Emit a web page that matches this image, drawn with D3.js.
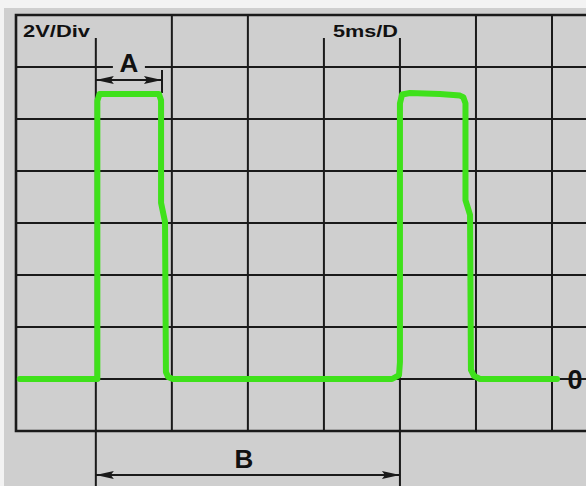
<!DOCTYPE html>
<html lang="en">
<head>
<meta charset="UTF-8">
<title>Scope trace</title>
<script src="https://d3js.org/d3.v7.min.js"></script>
<style>
  body { margin: 0; background: #ffffff; }
  svg { display: block; }
  text { font-family: "Liberation Sans", Arial, sans-serif; fill: #111; }
</style>
</head>
<body>
<div id="chart"></div>
<script>
// grid divisions: 5 ms per column, 2 V per row
const timeTicks = [5, 10, 15, 20, 25, 30, 35];
const voltTicks = [0, 2, 4, 6, 8, 10, 12];

// trace (ms, volts)
const traceTime  = [0.0, 5.1, 5.1, 5.24, 9.15, 9.29, 9.29, 9.55, 9.61, 9.75, 10.07, 24.48, 24.94, 25.0, 25.0, 25.14, 25.66, 27.63, 28.95, 29.17, 29.31, 29.31, 29.61, 29.67, 29.87, 30.26, 35.33];
const traceVolts = [0.0, 0.0, 10.7, 10.96, 10.96, 10.72, 6.77, 6.04, 0.27, 0.08, 0.0, 0.0, 0.15, 0.65, 10.6, 10.94, 11.0, 10.96, 10.9, 10.84, 10.6, 6.88, 6.31, 0.35, 0.12, 0.0, 0.0];

// measurement markers (ms)
const markerA = [5.0, 9.35];
const markerB = [5.0, 25.0];
const labels = { volts: "2V/Div", time: "5ms/D", zero: "0" };

const width = 586, height = 486;
const x = d3.scaleLinear().domain([-0.25, 35]).range([16, 552]);
const y = d3.scaleLinear().domain([-2, 14]).range([431, 15]);

const svg = d3.select("#chart").append("svg")
    .attr("width", width)
    .attr("height", height);

// screen background
svg.append("rect").attr("width", width).attr("height", height).attr("fill", "#f3f3f3");
svg.append("rect").attr("x", 4).attr("y", 8).attr("width", width).attr("height", height)
    .attr("fill", "#cfcfcf");

const ink = "#1a1a1a";

// lines that start below the top border (label area)
const startLow = [5, 20, 25];
// lines that run down to the B marker
const runLong = [5, 25];

svg.append("g").selectAll("line")
    .data(timeTicks)
    .join("line")
    .attr("x1", d => x(d)).attr("x2", d => x(d))
    .attr("y1", d => startLow.includes(d) ? y(14) + 23 : y(14))
    .attr("y2", d => runLong.includes(d) ? height : y(-2))
    .attr("stroke", ink)
    .attr("stroke-width", 2);

svg.append("g").selectAll("line")
    .data(voltTicks)
    .join("line")
    .attr("x1", x(-0.25)).attr("x2", width)
    .attr("y1", d => y(d)).attr("y2", d => y(d))
    .attr("stroke", ink)
    .attr("stroke-width", 2);

// frame
svg.append("path")
    .attr("d", `M${width},${y(14)}H${x(-0.25)}V${y(-2)}H${width}`)
    .attr("fill", "none")
    .attr("stroke", ink)
    .attr("stroke-width", 2.6);

// header labels
svg.append("text").attr("x", 23).attr("y", 37)
    .attr("font-size", 17).attr("font-weight", "bold")
    .attr("textLength", 67).attr("lengthAdjust", "spacingAndGlyphs")
    .text(labels.volts);
svg.append("text").attr("x", 333).attr("y", 37)
    .attr("font-size", 17).attr("font-weight", "bold")
    .attr("textLength", 65).attr("lengthAdjust", "spacingAndGlyphs")
    .text(labels.time);

// arrow helper
function arrow(x1, x2, yy) {
    const g = svg.append("g");
    g.append("line").attr("x1", x1).attr("x2", x2).attr("y1", yy).attr("y2", yy)
        .attr("stroke", ink).attr("stroke-width", 2);
    const len = 18, hw = 4;
    g.append("path")
        .attr("d", `M${x1},${yy}L${x1 + len},${yy - hw}L${x1 + len - 3},${yy}L${x1 + len},${yy + hw}Z`)
        .attr("fill", ink);
    g.append("path")
        .attr("d", `M${x2},${yy}L${x2 - len},${yy - hw}L${x2 - len + 3},${yy}L${x2 - len},${yy + hw}Z`)
        .attr("fill", ink);
}

// marker A
const aMid = (x(markerA[0]) + x(markerA[1])) / 2;
svg.append("rect").attr("x", aMid - 16).attr("y", y(12) - 4).attr("width", 32).attr("height", 8)
    .attr("fill", "#cfcfcf");
svg.append("line")
    .attr("x1", x(markerA[1])).attr("x2", x(markerA[1]))
    .attr("y1", y(12) + 3).attr("y2", y(11))
    .attr("stroke", ink).attr("stroke-width", 2);
arrow(x(markerA[0]), x(markerA[1]), y(12) + 13);
svg.append("text").attr("x", aMid).attr("y", y(12) + 5)
    .attr("text-anchor", "middle").attr("font-size", 26).attr("font-weight", "bold")
    .text("A");

// marker B
arrow(x(markerB[0]), x(markerB[1]), 475);
svg.append("text").attr("x", (x(markerB[0]) + x(markerB[1])) / 2 - 4).attr("y", 468)
    .attr("text-anchor", "middle").attr("font-size", 26).attr("font-weight", "bold")
    .text("B");

// trace
const trace = traceTime.map((t, i) => ({ t: t, v: traceVolts[i] }));
const line = d3.line().x(d => x(d.t)).y(d => y(d.v));
svg.append("path")
    .datum(trace)
    .attr("d", line)
    .attr("fill", "none")
    .attr("stroke", "#3fe11b")
    .attr("stroke-width", 6)
    .attr("stroke-linejoin", "round")
    .attr("stroke-linecap", "round");

// zero level label
svg.append("text").attr("x", 575).attr("y", y(0) + 10)
    .attr("text-anchor", "middle").attr("font-size", 27).attr("font-weight", "bold")
    .text(labels.zero);
</script>
</body>
</html>
